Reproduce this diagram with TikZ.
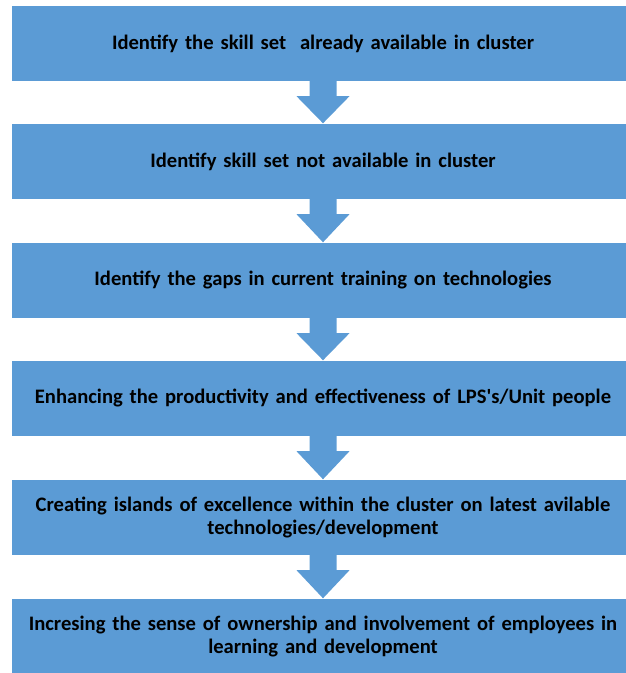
\documentclass[tikz,border=0pt]{standalone}
\usepackage{fontspec}
\setmainfont{Carlito}
\usetikzlibrary{calc}
\definecolor{boxblue}{HTML}{5B9BD5}
\newcommand\blockarrow[2]{%
  \fill[boxblue] ($(#1.south)+(-13.5,0.5)$) -- ($(#1.south)+(13.5,0.5)$)
    -- ($(#1.south)+(13.5,-15)$) -- ($(#1.south)+(26.5,-15)$)
    -- ($(#2.north)+(0,0.5)$) -- ($(#1.south)+(-26.5,-15)$)
    -- ($(#1.south)+(-13.5,-15)$) -- cycle;}
\begin{document}
\begin{tikzpicture}[x=1pt,y=1pt,
  box/.style={fill=boxblue, draw=none, minimum width=622pt, minimum height=75pt,
    inner sep=0pt, align=center, text width=610pt,
    font=\fontsize{20.6}{23}\selectfont\bfseries}]
\useasboundingbox (0,0) rectangle (626,673);
\node[box] (b1) at (323,629.5) {Identify the skill set\ \ already available in cluster};
\node[box] (b2) at (323,511.5) {Identify skill set not available in cluster};
\node[box] (b3) at (323,392.5) {Identify the gaps in current training on technologies};
\node[box] (b4) at (323,274.5) {Enhancing the productivity and effectiveness of LPS\textquotesingle s/Unit people};
\node[box] (b5) at (323,155.5) {Creating islands of excellence within the cluster on latest avilable\\technologies/development};
\node[box] (b6) at (323,36.5) {Incresing the sense of ownership and involvement of employees in\\learning and development};
\blockarrow{b1}{b2}
\blockarrow{b2}{b3}
\blockarrow{b3}{b4}
\blockarrow{b4}{b5}
\blockarrow{b5}{b6}
\end{tikzpicture}
\end{document}
